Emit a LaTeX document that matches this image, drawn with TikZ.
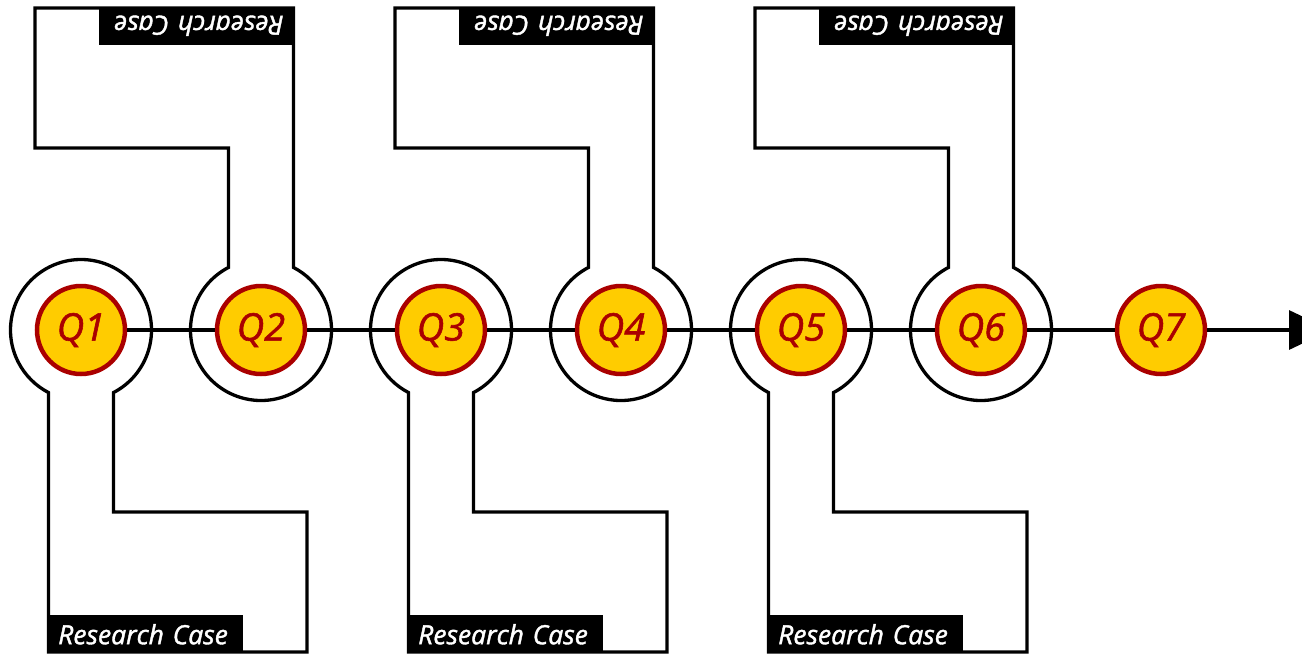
\documentclass[tikz,border=0pt]{standalone}
\usepackage{fontspec}
\setmainfont{Open Sans}
\newfontfamily\semifont[FakeBold=1.5, ItalicFeatures={FakeBold=1.5}]{Open Sans}
\usetikzlibrary{arrows.meta,calc}
\definecolor{qred}{HTML}{AA0000}
\definecolor{qyellow}{HTML}{FFCC00}
\tikzset{
  qnode/.style={circle, draw=qred, line width=4.5pt, fill=qyellow, minimum size=88pt, inner sep=0pt,
    text=qred, font=\semifont\fontsize{38}{38}\selectfont\itshape},
  caseline/.style={draw=black, line width=3.3pt, line join=miter},
  mainline/.style={draw=black, line width=3.3pt},
  caselabel/.style={fill=black, text=white, inner xsep=11pt, inner ysep=0pt, text width=174pt,
    minimum height=38pt, align=left, font=\semifont\fontsize{26.5}{26.5}\selectfont\itshape}
}
\newcommand{\bottomcase}[2]{%
  \draw[caseline] ($(#1,-330)+(-62.6:70.5)$) arc[start angle=-62.6, end angle=242.6, radius=70.5]
    -- (#1-32.5,-652) -- (#1+226,-652) -- (#1+226,-512) -- (#1+32.5,-512) -- cycle;
  \node[caselabel, anchor=south west] (#2) at (#1-34,-653.5) {Research Case};
}
\newcommand{\topcase}[2]{%
  \draw[caseline] ($(#1,-330)+(117.4:70.5)$) arc[start angle=117.4, end angle=422.6, radius=70.5]
    -- (#1+32.5,-8) -- (#1-226,-8) -- (#1-226,-148) -- (#1-32.5,-148) -- cycle;
  \node[caselabel, anchor=south west, rotate=180] (#2) at (#1+34,-6.5) {Research Case};
}
\begin{document}
\begin{tikzpicture}[x=1pt,y=1pt]
\useasboundingbox (0,0) rectangle (1302,-656);
\bottomcase{81}{c1}
\topcase{261}{c2}
\bottomcase{441}{c3}
\topcase{621}{c4}
\bottomcase{801}{c5}
\topcase{981}{c6}
\coordinate (end) at (1331,-330);
\foreach \i in {1,...,7} {
  \node[qnode] (q\i) at ({81+180*(\i-1)},-330) {Q\i};
}
\foreach \i/\j in {1/2,2/3,3/4,4/5,5/6,6/7} {
  \draw[mainline] (q\i) -- (q\j);
}
\draw[mainline, -{Triangle[width=39pt,length=42pt]}] (q7) -- (end);
\end{tikzpicture}
\end{document}
